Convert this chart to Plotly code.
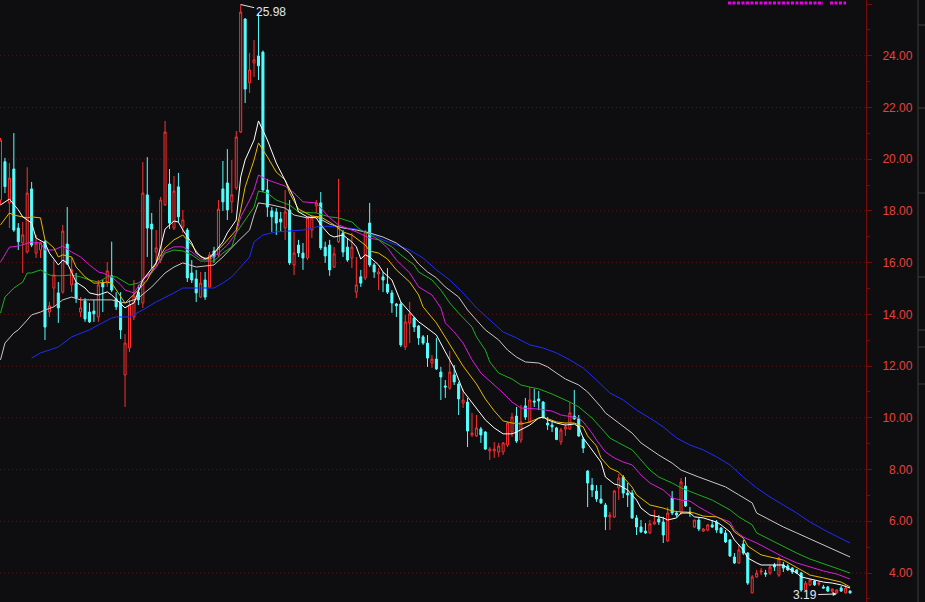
import plotly.graph_objects as go

BG = "#0e0e10"

# ---------------- candle data (index = trading day) ----------------
open_ = [18.42, 19.90, 18.31, 19.62, 17.34, 16.76, 16.41, 18.85, 16.37, 16.49,
         16.81, 14.09, 15.02, 14.83, 14.86, 16.72, 15.14, 15.21, 14.09, 14.52,
         14.09, 14.13, 13.90, 15.21, 15.21, 15.49, 14.60, 14.44, 11.66, 12.70,
         13.90, 14.86, 14.44, 18.62, 17.49, 16.41, 16.10, 18.23, 19.04, 17.34,
         18.93, 17.38, 17.26, 15.60, 15.37, 14.67, 15.33, 15.06, 16.45, 16.30,
         18.85, 19.08, 18.35, 18.89, 21.05, 25.42, 22.95, 23.72, 23.99, 24.14,
         18.81, 18.00, 17.96, 17.69, 17.34, 18.04, 15.91, 16.68, 16.37, 16.18,
         17.26, 18.20, 18.31, 16.60, 16.68, 15.83, 16.81, 17.15, 16.60, 16.18,
         14.86, 15.45, 15.41, 17.53, 15.91, 15.56, 15.45, 15.17, 14.83, 14.40,
         14.40, 12.74, 13.67, 13.86, 13.55, 13.13, 12.89, 12.12, 12.27, 11.77,
         11.23, 11.15, 11.66, 11.31, 10.57, 10.61, 9.34, 9.30, 9.57, 9.45,
         8.72, 8.72, 8.68, 8.68, 8.95, 9.45, 10.07, 9.14, 10.46, 9.84,
         10.65, 10.73, 10.61, 9.80, 9.72, 9.61, 9.07, 9.57, 9.57, 10.07,
         9.96, 9.18, 7.94, 7.40, 7.17, 6.86, 6.63, 6.17, 6.17, 7.29,
         7.71, 7.09, 7.09, 6.13, 5.78, 5.62, 5.55, 5.90, 6.09, 5.97,
         5.24, 6.90, 6.32, 6.36, 7.36, 6.36, 5.78, 6.05, 5.62, 5.66,
         5.86, 5.97, 5.74, 5.55, 5.28, 4.62, 4.39, 5.12, 4.77, 3.23,
         3.85, 4.04, 4.00, 4.00, 4.31, 3.92, 4.31, 4.27, 4.19, 4.12,
         4.00, 3.34, 3.54, 3.69, 3.57, 3.46, 3.46, 3.30, 3.23, 3.42,
         3.23, 3.30]
high = [20.82, 20.05, 19.85, 21.01, 17.53, 17.57, 19.69, 19.12, 17.07, 16.81,
        16.88, 14.48, 16.10, 15.25, 17.46, 18.15, 16.18, 15.60, 14.67, 14.63,
        14.44, 14.56, 15.33, 15.33, 16.02, 16.81, 14.86, 14.86, 13.24, 14.56,
        15.33, 15.14, 19.89, 20.08, 17.92, 17.26, 18.54, 21.48, 19.62, 19.35,
        19.47, 18.04, 17.34, 16.10, 15.72, 15.64, 15.64, 16.41, 16.61, 18.42,
        19.93, 20.39, 19.97, 21.09, 25.98, 25.45, 24.11, 24.61, 25.65, 24.20,
        19.24, 18.15, 18.11, 17.96, 18.81, 18.42, 17.19, 16.88, 16.76, 17.77,
        17.84, 18.42, 18.73, 16.81, 16.88, 16.60, 19.24, 17.26, 16.95, 17.15,
        16.22, 15.72, 17.26, 18.31, 15.99, 15.79, 15.64, 15.79, 14.94, 14.44,
        14.48, 13.98, 14.48, 13.90, 13.59, 13.20, 13.20, 12.43, 13.09, 11.97,
        11.46, 12.58, 12.04, 11.39, 11.12, 10.77, 10.19, 10.11, 9.65, 9.49,
        8.87, 9.06, 9.03, 9.06, 9.84, 10.19, 10.42, 10.50, 10.77, 11.19,
        11.12, 11.04, 10.65, 10.03, 9.84, 9.65, 9.61, 9.80, 10.61, 11.08,
        10.11, 9.26, 7.98, 7.67, 7.40, 7.40, 6.71, 6.36, 7.21, 7.83,
        7.79, 7.48, 7.21, 6.24, 6.05, 5.93, 6.05, 6.44, 6.24, 6.17,
        6.55, 7.17, 6.40, 7.67, 7.71, 6.55, 6.05, 6.13, 5.74, 5.90,
        6.05, 6.05, 5.78, 5.66, 5.31, 4.77, 5.12, 5.28, 4.81, 3.92,
        4.12, 4.19, 4.12, 4.31, 4.39, 4.62, 4.43, 4.35, 4.23, 4.15,
        4.04, 3.69, 3.77, 3.73, 3.69, 3.54, 3.50, 3.40, 3.38, 3.50,
        3.54, 3.34]
low = [18.23, 18.69, 17.34, 17.19, 16.49, 15.60, 16.35, 16.60, 16.18, 16.18,
       13.01, 13.90, 14.29, 13.67, 14.80, 15.91, 14.86, 14.44, 13.90, 13.71,
       13.67, 13.71, 13.71, 14.09, 15.06, 14.86, 14.17, 13.05, 10.42, 12.54,
       13.78, 14.36, 14.25, 16.22, 15.79, 15.83, 15.99, 18.20, 17.30, 17.26,
       17.57, 17.15, 15.25, 15.21, 14.48, 14.63, 14.56, 15.02, 15.99, 16.22,
       18.00, 17.65, 17.92, 18.81, 21.01, 22.17, 22.56, 23.18, 23.06, 18.73,
       17.77, 17.19, 17.07, 17.19, 16.88, 15.91, 15.52, 16.22, 15.72, 16.10,
       16.95, 17.92, 16.49, 15.99, 15.49, 15.79, 16.76, 16.22, 16.03, 15.79,
       14.63, 15.06, 15.33, 15.83, 15.41, 14.94, 14.86, 14.79, 14.06, 13.90,
       12.74, 12.62, 12.89, 13.32, 12.82, 12.82, 11.97, 11.93, 11.85, 10.69,
       10.77, 11.08, 11.27, 10.11, 10.38, 8.87, 9.26, 9.26, 9.03, 8.76,
       8.37, 8.45, 8.49, 8.56, 8.87, 9.26, 9.03, 9.03, 9.92, 9.80,
       10.42, 10.30, 9.96, 9.53, 9.45, 9.14, 8.95, 9.30, 9.53, 9.92,
       9.26, 8.64, 6.55, 6.94, 6.75, 6.67, 5.66, 5.66, 6.13, 6.82,
       6.90, 6.55, 6.09, 5.47, 5.55, 5.51, 5.51, 5.86, 5.86, 5.16,
       5.20, 6.24, 6.17, 6.24, 6.55, 6.17, 5.74, 5.62, 5.59, 5.62,
       5.74, 5.55, 5.51, 5.16, 4.62, 4.35, 4.35, 4.70, 3.54, 3.22,
       3.81, 3.92, 3.85, 3.92, 4.08, 3.85, 4.04, 4.08, 3.96, 3.96,
       3.27, 3.30, 3.50, 3.50, 3.50, 3.40, 3.27, 3.21, 3.19, 3.27,
       3.21, 3.20]
close = [20.74, 18.94, 19.27, 17.26, 16.81, 17.07, 18.69, 16.68, 16.76, 16.76,
         13.51, 14.33, 15.52, 14.25, 17.22, 15.95, 15.72, 14.63, 14.25, 13.82,
         13.71, 14.02, 15.14, 15.06, 15.68, 14.94, 14.29, 13.40, 12.89, 14.36,
         14.71, 14.56, 18.69, 17.34, 17.30, 16.57, 18.42, 21.05, 17.53, 18.77,
         17.77, 17.65, 15.41, 15.33, 14.83, 15.21, 14.67, 16.30, 16.22, 18.07,
         18.35, 18.04, 18.62, 20.86, 25.69, 22.71, 23.45, 23.84, 23.61, 18.81,
         18.15, 17.77, 17.53, 17.57, 17.96, 15.99, 16.37, 16.37, 16.18, 17.73,
         17.73, 18.31, 16.57, 16.26, 15.72, 16.34, 17.34, 16.41, 16.10, 16.60,
         15.14, 15.21, 17.19, 15.91, 15.64, 15.64, 15.33, 14.86, 14.44, 14.33,
         12.82, 13.71, 14.02, 13.51, 13.09, 12.89, 12.31, 12.27, 11.89, 11.58,
         11.19, 11.77, 11.39, 10.73, 10.69, 9.49, 9.41, 9.61, 9.34, 8.79,
         8.79, 8.79, 8.91, 9.03, 9.80, 10.03, 9.10, 9.84, 10.03, 10.69,
         10.61, 10.65, 10.03, 9.72, 9.65, 9.16, 9.53, 9.65, 10.19, 9.96,
         9.30, 8.83, 7.48, 7.21, 6.86, 6.71, 6.17, 6.24, 7.17, 7.67,
         7.09, 7.02, 6.13, 5.78, 5.59, 5.55, 5.90, 5.97, 5.97, 5.47,
         6.32, 6.32, 6.24, 7.52, 6.59, 6.32, 6.05, 5.70, 5.70, 5.86,
         5.78, 5.66, 5.55, 5.20, 4.66, 4.39, 4.89, 4.77, 3.61, 3.85,
         4.00, 4.08, 3.96, 4.23, 4.23, 4.58, 4.19, 4.12, 4.04, 4.00,
         3.34, 3.61, 3.73, 3.54, 3.61, 3.42, 3.30, 3.38, 3.34, 3.30,
         3.42, 3.23]
days = list(range(len(close)))

# ---------------- moving averages (read at sampled days) ----------------
ma5_day = [0, 2, 4, 5, 7, 8, 10, 11, 13, 14, 15, 16, 17, 19, 20, 22, 24, 25, 27, 28,
           29, 30, 32, 35, 36, 37, 39, 40, 41, 43, 44, 46, 47, 48, 50, 51, 53, 54, 55, 57,
           58, 60, 62, 64, 66, 67, 69, 71, 72, 74, 75, 77, 79, 80, 81, 82, 83, 85, 86, 88,
           89, 90, 92, 94, 95, 98, 100, 102, 104, 107, 109, 111, 113, 115, 116, 119, 121, 122, 123, 125,
           127, 129, 130, 131, 133, 135, 136, 138, 139, 141, 143, 144, 146, 149, 150, 152, 153, 155, 156, 158,
           161, 162, 164, 165, 167, 168, 170, 171, 176, 177, 179, 180, 182, 185, 187, 189, 191]
ma5 = [18.23, 18.46, 18.04, 17.77, 17.53, 16.95, 16.76, 16.37, 15.91, 16.10, 15.99, 15.60, 15.25, 15.02, 14.83, 14.75, 14.87, 14.75, 14.44, 14.25,
       14.36, 14.44, 15.33, 15.99, 16.60, 17.30, 17.61, 17.57, 17.26, 16.76, 16.37, 16.14, 16.22, 16.37, 16.80, 17.15, 17.65, 19.31, 19.97, 20.74,
       21.48, 20.74, 19.85, 19.20, 18.50, 17.96, 17.77, 17.73, 17.46, 17.07, 16.99, 17.07, 16.80, 16.61, 16.14, 16.30, 16.22, 15.91, 15.64, 15.33,
       14.94, 14.48, 14.09, 13.71, 13.59, 13.20, 12.55, 11.92, 11.04, 10.38, 9.92, 9.61, 9.38, 9.38, 9.45, 9.72, 9.99, 10.03, 9.92, 9.80,
       9.72, 9.76, 9.65, 9.22, 8.76, 8.29, 7.71, 7.44, 7.40, 7.21, 6.82, 6.51, 6.24, 6.13, 6.05, 6.13, 6.32, 6.32, 6.17, 6.13,
       5.97, 5.86, 5.59, 5.28, 4.89, 4.58, 4.39, 4.31, 4.31, 4.19, 4.00, 3.85, 3.77, 3.65, 3.61, 3.54, 3.42]

ma10_day = [0, 2, 3, 6, 7, 9, 10, 12, 13, 14, 16, 17, 19, 21, 22, 24, 25, 27, 28, 31,
            33, 35, 37, 39, 41, 43, 45, 47, 48, 50, 51, 53, 54, 55, 57, 58, 60, 62, 64, 65,
            67, 70, 72, 75, 77, 79, 82, 83, 85, 87, 89, 92, 94, 95, 98, 100, 102, 104, 107, 109,
            111, 113, 115, 117, 119, 121, 122, 124, 125, 127, 129, 131, 132, 134, 135, 137, 139, 140, 142, 143,
            145, 146, 149, 151, 153, 154, 156, 158, 161, 162, 164, 165, 167, 168, 170, 171, 173, 176, 178, 180,
            182, 185, 187, 189, 191]
ma10 = [17.46, 17.92, 17.84, 17.73, 17.77, 17.73, 16.88, 16.57, 16.22, 16.30, 16.22, 15.83, 15.45, 15.21, 15.21, 15.25, 15.21, 14.67, 14.44, 14.94,
        15.33, 15.99, 16.57, 16.88, 17.07, 16.68, 16.22, 16.14, 16.37, 16.68, 16.88, 17.26, 18.04, 18.92, 19.97, 20.63, 20.09, 19.50, 19.20, 18.69,
        18.07, 17.80, 17.77, 17.46, 17.19, 17.07, 16.68, 16.45, 16.37, 16.14, 15.72, 15.25, 14.75, 14.29, 13.67, 13.12, 12.55, 12.00, 11.31, 10.73,
        10.27, 9.88, 9.80, 9.76, 9.84, 9.99, 10.03, 9.92, 9.84, 9.80, 9.80, 9.65, 9.30, 8.91, 8.45, 8.06, 7.90, 7.71, 7.32, 7.02,
        6.75, 6.63, 6.51, 6.40, 6.36, 6.36, 6.32, 6.20, 6.17, 6.09, 5.86, 5.59, 5.35, 5.04, 4.81, 4.70, 4.62, 4.50, 4.31, 4.12,
        3.92, 3.81, 3.73, 3.65, 3.46]

ma20_day = [0, 2, 4, 6, 7, 9, 10, 12, 14, 16, 18, 20, 22, 23, 25, 27, 28, 30, 32, 35,
            37, 39, 41, 43, 45, 47, 49, 51, 53, 54, 56, 57, 58, 60, 62, 64, 66, 68, 71, 72,
            74, 76, 78, 80, 83, 85, 87, 89, 92, 94, 97, 99, 100, 102, 104, 106, 108, 111, 113, 115,
            117, 121, 124, 126, 130, 131, 133, 134, 136, 138, 140, 142, 144, 146, 149, 151, 153, 155, 157, 159,
            161, 164, 165, 167, 170, 173, 176, 179, 182, 185, 188, 191]
ma20 = [16.02, 16.60, 16.64, 16.76, 16.80, 16.76, 16.49, 16.49, 16.64, 16.41, 16.22, 15.91, 15.64, 15.60, 15.45, 15.14, 14.94, 14.83, 15.33, 15.83,
        16.45, 16.61, 16.61, 16.41, 16.14, 16.10, 16.37, 16.68, 17.15, 17.77, 18.42, 18.81, 19.39, 19.20, 19.08, 18.96, 18.69, 18.35, 18.31, 18.11,
        17.73, 17.46, 17.34, 17.19, 16.95, 16.88, 16.57, 16.10, 15.60, 15.06, 14.75, 14.25, 13.67, 13.32, 12.89, 12.24, 11.73, 11.27, 10.96, 10.61,
        10.38, 10.34, 10.26, 10.11, 9.99, 9.84, 9.41, 9.14, 8.68, 8.45, 8.29, 8.18, 7.79, 7.48, 7.21, 6.90, 6.82, 6.78, 6.55, 6.36,
        6.17, 5.97, 5.66, 5.39, 5.16, 4.89, 4.62, 4.39, 4.23, 4.08, 3.96, 3.77]

ma30_day = [0, 1, 3, 5, 6, 7, 9, 11, 13, 16, 18, 20, 22, 24, 26, 28, 29, 31, 34, 35,
            37, 39, 41, 43, 45, 48, 50, 52, 53, 55, 57, 58, 60, 62, 65, 67, 70, 71, 74, 76,
            79, 81, 84, 86, 88, 90, 93, 94, 97, 99, 101, 103, 106, 107, 109, 110, 112, 115, 117, 119,
            121, 124, 126, 128, 130, 133, 135, 137, 139, 142, 144, 146, 148, 151, 153, 155, 157, 160, 162, 164,
            166, 169, 170, 173, 176, 179, 182, 186, 191]
ma30 = [14.05, 14.67, 15.02, 15.25, 15.60, 15.60, 15.72, 15.52, 15.49, 15.52, 15.45, 15.33, 15.25, 15.45, 15.45, 15.25, 15.14, 15.21, 15.60, 15.83,
        16.37, 16.49, 16.45, 16.30, 16.06, 16.06, 16.37, 16.61, 17.15, 17.65, 18.15, 18.77, 18.69, 18.42, 18.23, 17.96, 17.92, 17.92, 17.77, 17.73,
        17.57, 17.26, 16.99, 16.80, 16.61, 16.30, 15.91, 15.64, 15.33, 14.94, 14.44, 14.05, 13.51, 13.13, 12.62, 12.16, 11.73, 11.50, 11.27, 11.19,
        11.12, 10.92, 10.77, 10.61, 10.42, 9.99, 9.61, 9.22, 9.03, 8.76, 8.37, 7.98, 7.71, 7.48, 7.29, 7.17, 7.02, 6.82, 6.63, 6.44,
        6.17, 5.86, 5.55, 5.28, 5.01, 4.77, 4.54, 4.31, 4.00]

ma60_day = [0, 1, 3, 4, 6, 7, 9, 10, 12, 14, 16, 18, 20, 22, 25, 27, 28, 31, 34, 37,
            39, 41, 44, 48, 50, 53, 56, 57, 58, 61, 64, 66, 69, 71, 74, 77, 80, 83, 86, 89,
            92, 94, 96, 98, 100, 103, 105, 107, 109, 112, 114, 116, 118, 121, 123, 125, 127, 130, 132, 135,
            136, 139, 142, 144, 148, 151, 153, 157, 160, 163, 166, 169, 170, 173, 176, 179, 182, 186, 191]
ma60 = [12.24, 12.89, 13.28, 13.40, 13.78, 13.98, 14.09, 14.17, 14.29, 14.56, 14.67, 14.56, 14.56, 14.56, 14.56, 14.48, 14.44, 14.63, 15.06, 15.60,
        15.83, 15.99, 15.83, 15.91, 16.22, 16.76, 17.26, 17.84, 18.31, 18.23, 18.11, 17.84, 17.73, 17.77, 17.49, 17.34, 17.26, 17.15, 16.99, 16.76,
        16.37, 15.95, 15.64, 15.41, 15.06, 14.67, 14.17, 13.78, 13.40, 13.01, 12.62, 12.35, 12.16, 12.12, 11.97, 11.73, 11.50, 11.27, 11.00, 10.42,
        10.19, 9.80, 9.41, 9.03, 8.56, 8.25, 7.98, 7.71, 7.52, 7.33, 7.02, 6.71, 6.32, 6.05, 5.78, 5.55, 5.32, 5.01, 4.62]

ma120_day = [7, 9, 11, 13, 16, 18, 20, 22, 25, 26, 29, 32, 35, 39, 41, 44, 48, 50, 52, 54,
             56, 57, 59, 62, 65, 68, 72, 76, 80, 83, 86, 89, 92, 95, 98, 101, 104, 107, 110, 113,
             116, 119, 122, 125, 128, 131, 134, 137, 140, 143, 146, 149, 152, 155, 158, 161, 164, 167, 170, 173,
             176, 179, 182, 186, 191]
ma120 = [12.31, 12.51, 12.62, 12.74, 13.13, 13.28, 13.40, 13.59, 13.86, 13.90, 13.90, 14.17, 14.48, 14.83, 15.02, 15.02, 15.02, 15.21, 15.45, 15.83,
         16.22, 16.80, 17.07, 17.19, 17.22, 17.26, 17.42, 17.38, 17.30, 17.15, 16.88, 16.68, 16.49, 16.18, 15.72, 15.33, 14.83, 14.25, 13.78, 13.32,
         13.09, 12.82, 12.70, 12.51, 12.24, 11.93, 11.46, 10.96, 10.69, 10.30, 9.99, 9.65, 9.22, 8.95, 8.76, 8.49, 8.18, 7.71, 7.29, 6.94,
         6.63, 6.32, 5.97, 5.59, 5.16]

price_ticks = [4, 6, 8, 10, 12, 14, 16, 18, 20, 22, 24, 26]
grid_levels = [4, 6, 8, 10, 12, 14, 16, 18, 20, 22, 24]
high_label = "25.98"
low_label = "3.19"

# ---------------- figure ----------------
W, H = 925, 602
PLOT_W = 866
px_per_day = 4.448
x_first = 0.5

fig = go.Figure()
fig.add_trace(go.Candlestick(
    x=days, open=open_, high=high, low=low, close=close,
    increasing=dict(line=dict(color="#ff3030", width=1), fillcolor=BG),
    decreasing=dict(line=dict(color="#54ffff", width=1), fillcolor="#54ffff"),
    whiskerwidth=0, showlegend=False, hoverinfo="skip"))

lines = [
    (ma120_day, ma120, "#1e2cff"),
    (ma60_day, ma60, "#c8c8c8"),
    (ma30_day, ma30, "#1fae1f"),
    (ma20_day, ma20, "#d81ed8"),
    (ma10_day, ma10, "#e6b800"),
    (ma5_day, ma5, "#ffffff"),
]
for xs, ys, col in lines:
    fig.add_trace(go.Scatter(x=xs, y=ys, mode="lines",
                             line=dict(color=col, width=1),
                             showlegend=False, hoverinfo="skip"))

x0 = -x_first / px_per_day
x1 = (PLOT_W - x_first) / px_per_day
y_top, y_bot = 26.155, 2.879

fig.update_layout(
    width=W, height=H,
    margin=dict(l=0, r=W - PLOT_W, t=0, b=0),
    paper_bgcolor=BG, plot_bgcolor=BG,
    boxgap=0.35,
    xaxis=dict(range=[x0, x1], visible=False, rangeslider=dict(visible=False),
               showgrid=False, zeroline=False),
    yaxis=dict(range=[y_bot, y_top], side="right",
               tickvals=price_ticks,
               ticktext=[("\u2007" if v < 10 else "") + f"{v:.2f}" for v in price_ticks],
               tickfont=dict(family="Liberation Sans, Arial, sans-serif", size=12, color="#e8403c"),
               showgrid=False,
               showline=True, linecolor="#7a0a0a", linewidth=1,
               ticks="outside", ticklen=5, tickcolor="#7a0a0a",
               minor=dict(dtick=1, tick0=0, ticks="outside", ticklen=3,
                          tickcolor="#7a0a0a", showgrid=False),
               ticklabelstandoff=8,
               zeroline=False),
    font=dict(family="Liberation Sans, Arial, sans-serif"),
)

# extreme value markers
fig.add_annotation(x=54, y=25.98, text=high_label, showarrow=True,
                   ax=30, ay=7, arrowhead=0, arrowwidth=1, arrowcolor="#e6e6e6",
                   font=dict(size=12, color="#e0e6f0"))
fig.add_annotation(x=188, y=3.19, text=low_label, showarrow=True,
                   ax=-32, ay=1, arrowhead=2, arrowsize=0.8, arrowwidth=1, arrowcolor="#e6e6e6",
                   font=dict(size=12, color="#e0e6f0"))

shapes = []
# dotted price grid (no line at the very top level)
for lv in grid_levels:
    shapes.append(dict(type="line", xref="paper", yref="y", x0=0, x1=1, y0=lv, y1=lv,
                       layer="below", line=dict(color="#5e1414", width=1, dash="1px,3px")))
# magenta dotted strip at the top
for a, b in [(728, 823), (830, 846)]:
    shapes.append(dict(type="line", xref="paper", yref="paper",
                       x0=a / PLOT_W, x1=b / PLOT_W, y0=1 - 3 / H, y1=1 - 3 / H,
                       line=dict(color="#e600e6", width=3, dash="3px,1.5px")))
# neighbouring panel edge at the far right
shapes.append(dict(type="line", xref="paper", yref="paper",
                   x0=918 / PLOT_W, x1=918 / PLOT_W, y0=0, y1=1,
                   line=dict(color="#3c3c3c", width=1)))
for yy in [25, 108, 193, 277, 330, 347, 384]:
    shapes.append(dict(type="line", xref="paper", yref="paper",
                       x0=918 / PLOT_W, x1=925 / PLOT_W, y0=1 - yy / H, y1=1 - yy / H,
                       line=dict(color="#3c3c3c", width=1)))
fig.update_layout(shapes=shapes)

fig.write_html("out.html", config={"displayModeBar": False},
               post_script="document.body.style.margin='0';"
                           "document.body.style.background='" + BG + "';"
                           "document.body.style.overflow='hidden';")
